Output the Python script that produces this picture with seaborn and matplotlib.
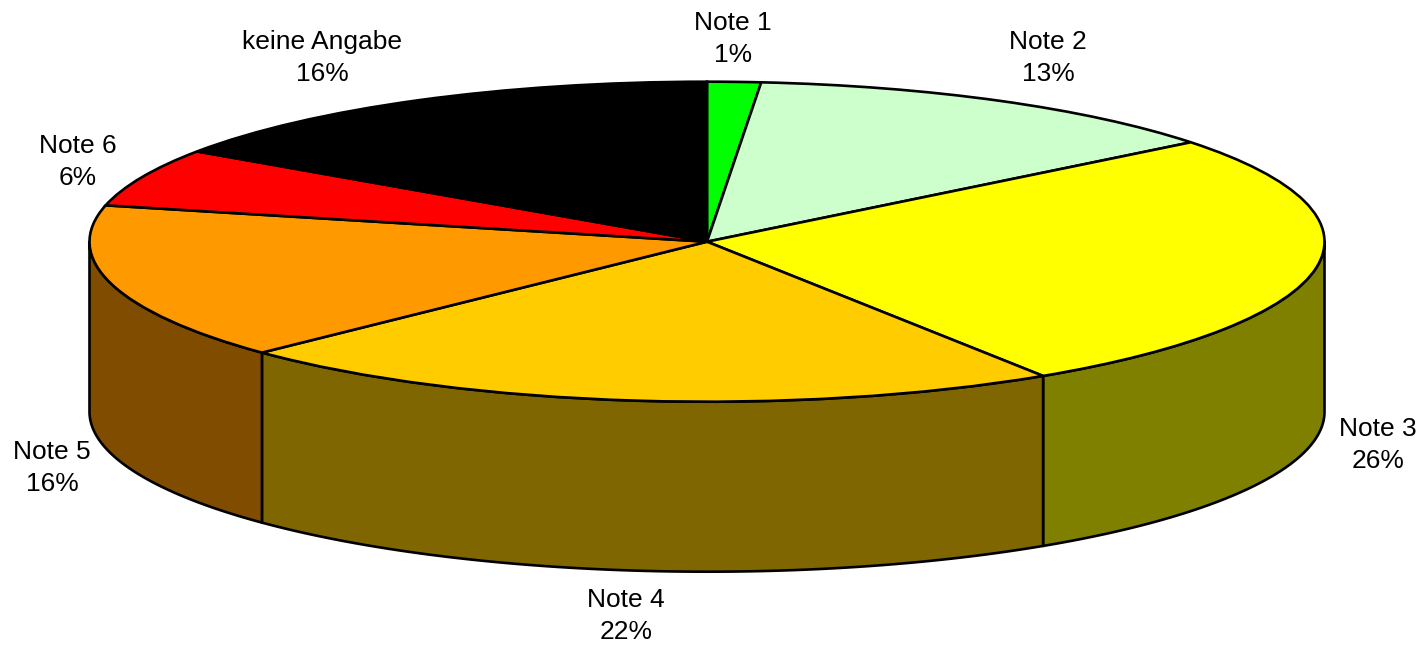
import numpy as np
import seaborn as sns
import matplotlib
matplotlib.use('Agg')
import matplotlib.pyplot as plt

categories = ['Note 1', 'Note 2', 'Note 3', 'Note 4', 'Note 5', 'Note 6', 'keine Angabe']
shares = [1.4, 12.93, 26.51, 21.97, 15.84, 5.89, 15.46]
percent_labels = [1, 13, 26, 22, 16, 6, 16]
top_colors = ['#00FF00', '#CCFFCC', '#FFFF00', '#FFCC00', '#FF9900', '#FF0000', '#000000']

sns.set_theme(style='white')
plt.rcParams['font.family'] = ['Liberation Sans', 'DejaVu Sans']

# Pixelmasse der Ellipse im Bild
W, H = 1426, 647
CX, CY, RX, RY = 707, 241.7, 617.5, 160
DEPTH = 170 / RY
LW = 1.9

# Mittelpunkt der Beschriftungen in Pixeln
label_px = [(733, 39), (1048, 58), (1378, 445), (626, 616), (52, 468), (78, 162), (322, 58)]


def px(x, y):
    return (x - CX) / RX, (CY - y) / RY


fig = plt.figure(figsize=(W / 100, H / 100), dpi=100)
ax = fig.add_axes([0, 0, 1, 1])

# Deckel: normaler Kreis, wird durch die Achsengrenzen zur Ellipse
ax.pie(shares, colors=sns.color_palette(top_colors), startangle=90, counterclock=False,
       normalize=True, wedgeprops={'edgecolor': 'black', 'linewidth': LW, 'zorder': 3})
ax.set_aspect('auto')
ax.set_xlim(px(0, 0)[0], px(W, 0)[0])
ax.set_ylim(px(0, H)[1], px(0, 0)[1])

# Seitenwand: nur der vordere Teil des Rands (90 bis 270 Grad im Uhrzeigersinn von oben)
edges = np.cumsum([0] + shares) / sum(shares) * 360
for i, color in enumerate(top_colors):
    a = max(edges[i], 90)
    b = min(edges[i + 1], 270)
    if a >= b:
        continue
    t = np.radians(np.linspace(a, b, 200))
    x = np.sin(t)
    y = np.cos(t)
    side = tuple(c * 0.5 for c in matplotlib.colors.to_rgb(color))
    xs = np.concatenate([x, x[::-1]])
    ys = np.concatenate([y, y[::-1] - DEPTH])
    ax.fill(xs, ys, facecolor=side, edgecolor='black', linewidth=LW, joinstyle='round', zorder=2)

for name, pct, (lx, ly) in zip(categories, percent_labels, label_px):
    tx, ty = px(lx, ly)
    ax.text(tx, ty, f'{name}\n{pct}%', ha='center', va='center', fontsize=19,
            linespacing=1.42, color='black', zorder=4)

ax.axis('off')
fig.savefig('out.png', dpi=100, facecolor='white')
